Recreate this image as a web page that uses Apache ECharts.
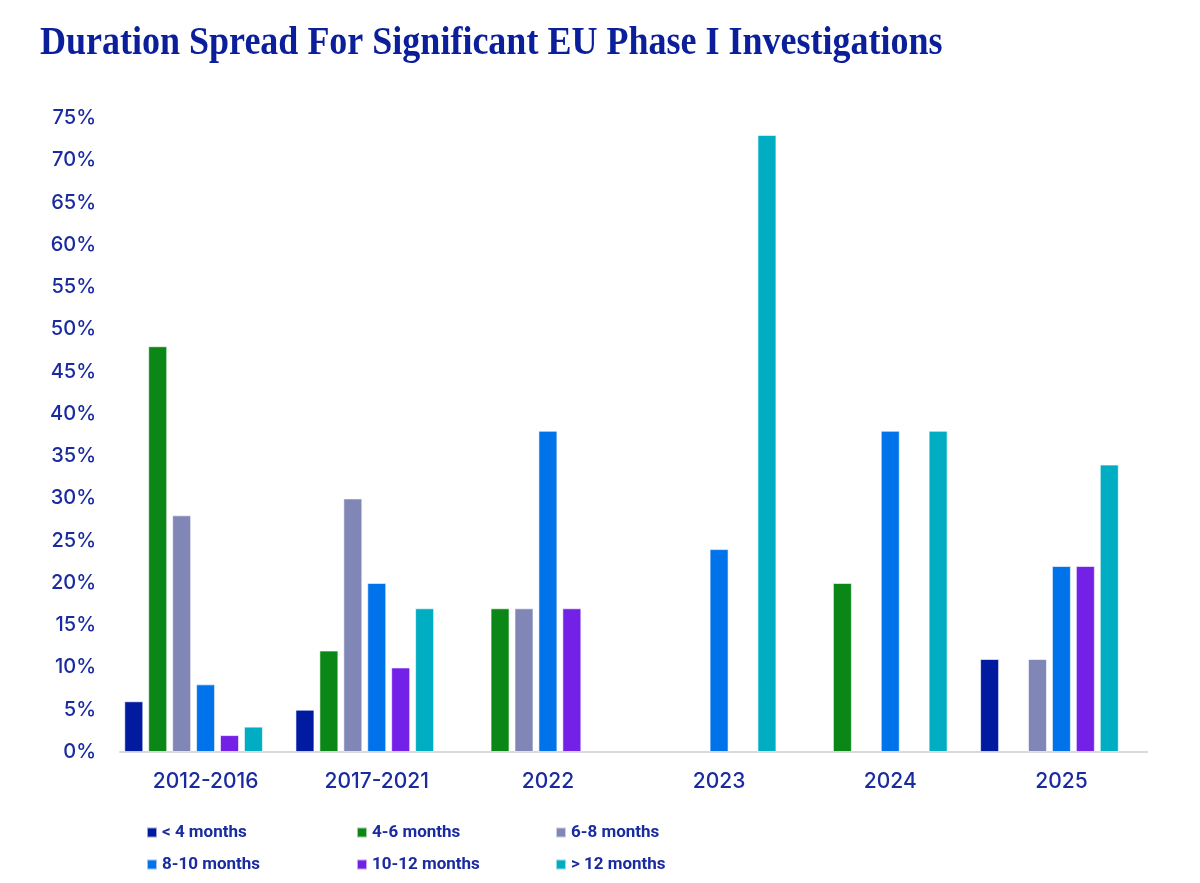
<!DOCTYPE html>
<html>
<head>
<meta charset="utf-8">
<script src="https://cdn.jsdelivr.net/npm/echarts@6/dist/echarts.min.js"></script>
<style>
html,body{margin:0;padding:0;background:#fff;}
#chart{width:1200px;height:883px;}
</style>
</head>
<body>
<div id="chart"></div>
<script>
const titleText = 'Duration Spread For Significant EU Phase I Investigations';
const categories = ['2012-2016', '2017-2021', '2022', '2023', '2024', '2025'];
const seriesNames = ['< 4 months', '4-6 months', '6-8 months', '8-10 months', '10-12 months', '> 12 months'];
const lessThan4 = [6, 5, null, null, null, 11];
const m4to6 = [48, 12, 17, null, 20, null];
const m6to8 = [28, 30, 17, null, null, 11];
const m8to10 = [8, 20, 38, 24, 38, 22];
const m10to12 = [2, 10, 17, null, null, 22];
const moreThan12 = [3, 17, null, 73, 38, 34];
const yTicks = [0, 5, 10, 15, 20, 25, 30, 35, 40, 45, 50, 55, 60, 65, 70, 75];

const seriesData = [lessThan4, m4to6, m6to8, m8to10, m10to12, moreThan12];
const colors = ['#001BA0', '#0A8716', '#8087B6', '#0073EA', '#7321E6', '#00ADC2'];
const navy = '#1A2BA0';

const legendPos = [
  {left: 141, top: 819}, {left: 351, top: 819}, {left: 550, top: 819},
  {left: 141, top: 851}, {left: 351, top: 851}, {left: 550, top: 851}
];

const series = seriesNames.map((n, i) => ({
  name: n, type: 'bar', data: seriesData[i],
  barGap: '26%', barCategoryGap: '5%',
  itemStyle: {color: colors[i], borderColor: 'rgba(255,255,255,0.6)', borderWidth: 1}
}));
// the source chart reserves an empty seventh slot in every group
series.push({name: 'spacer', type: 'bar', data: categories.map(() => null), silent: true});

const chart = echarts.init(document.getElementById('chart'));
chart.setOption({
  animation: false,
  color: colors,
  graphic: [{
    type: 'text', x: 40, y: 24, scaleX: 0.9, scaleY: 1,
    style: {text: titleText, fontFamily: 'Liberation Serif', fontSize: 40, fontWeight: 'bold', fill: '#0B1F9A'}
  }],
  legend: seriesNames.map((n, i) => ({
    data: [n], left: legendPos[i].left, top: legendPos[i].top,
    icon: 'rect', itemWidth: 10, itemHeight: 10, itemGap: 6,
    textStyle: {fontFamily: 'Roboto', fontWeight: 'bold', fontSize: 17, color: navy}
  })),
  grid: {left: 120, right: 53, top: 118, bottom: 131},
  xAxis: {
    type: 'category', data: categories,
    axisLine: {lineStyle: {color: '#D9D9D9', width: 2}},
    axisTick: {show: false},
    axisLabel: {fontFamily: 'Inter', fontSize: 21, fontWeight: 500, color: navy, margin: 19}
  },
  yAxis: {
    type: 'value', min: yTicks[0], max: yTicks[yTicks.length - 1], interval: 5,
    splitLine: {show: false},
    axisLine: {show: false}, axisTick: {show: false},
    axisLabel: {fontFamily: 'Inter', fontSize: 20, fontWeight: 500, color: navy, margin: 24,
      formatter: v => v + '%'}
  },
  series: series
});
</script>
</body>
</html>
